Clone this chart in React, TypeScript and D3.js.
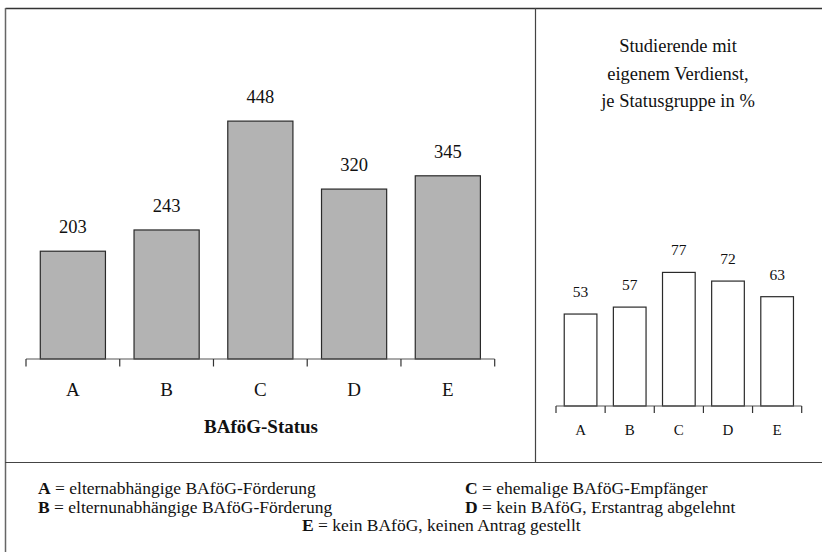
import React from "react";
import * as d3 from "d3";

const categories = ["A", "B", "C", "D", "E"];
const leftValues = [203, 243, 448, 320, 345];
const rightValues = [53, 57, 77, 72, 63];
const leftAxisTitle = "BAföG-Status";
const rightTitle = ["Studierende mit", "eigenem Verdienst,", "je Statusgruppe in %"];
const legendLeft = [
  { key: "A", text: " = elternabhängige BAföG-Förderung" },
  { key: "B", text: " = elternunabhängige BAföG-Förderung" },
];
const legendRight = [
  { key: "C", text: " = ehemalige BAföG-Empfänger" },
  { key: "D", text: " = kein BAföG, Erstantrag abgelehnt" },
];
const legendCenter = { key: "E", text: " = kein BAföG, keinen Antrag gestellt" };

const W = 822;
const H = 552;
const FONT = "Liberation Serif, Times New Roman, serif";

export default function App() {
  // left chart
  const lx = d3.scaleBand<string>().domain(categories).range([26, 494.7]).padding(0);
  const ly = d3.scaleLinear().domain([0, 500]).range([359, 359 - 500 * 0.531]);
  const lStep = lx.step();
  const lBarW = lStep * 0.695;
  const lTicks = d3.range(categories.length + 1).map((i) => 26 + i * lStep);

  // right chart
  const rx = d3.scaleBand<string>().domain(categories).range([556, 801.7]).padding(0);
  const ry = d3.scaleLinear().domain([0, 100]).range([406, 406 - 173.5]);
  const rStep = rx.step();
  const rBarW = rStep * 0.665;
  const rTicks = d3.range(categories.length + 1).map((i) => 556 + i * rStep);

  const stroke = "#2a2a2a";
  const ts = { fontFamily: FONT };
  const legendSize = 17.5;

  return (
    <svg
      width={W}
      height={H}
      style={{ position: "absolute", left: 0, top: 0, background: "#fff", fontFamily: FONT }}
    >
      <rect x={0} y={0} width={W} height={H} fill="#fff" />
      {/* frame */}
      <line x1={5.5} x2={W} y1={8.5} y2={8.5} stroke="#333" strokeWidth={1.5} />
      <line x1={5.5} x2={5.5} y1={8} y2={H} stroke="#666" strokeWidth={1.5} />
      <line x1={535.5} x2={535.5} y1={8} y2={462} stroke="#444" strokeWidth={1.2} />
      <line x1={5} x2={W} y1={462.5} y2={462.5} stroke="#444" strokeWidth={1.2} />

      {/* left chart bars */}
      {categories.map((c, i) => {
        const x = (lx(c) as number) + (lStep - lBarW) / 2;
        const y = ly(leftValues[i]);
        return (
          <g key={"lb" + c}>
            <rect x={x} y={y} width={lBarW} height={ly(0) - y} fill="#b3b3b3" stroke={stroke} strokeWidth={1.2} />
            <text style={ts} x={x + lBarW / 2} y={y - 18} textAnchor="middle" fontSize={18.5} fill="#111">
              {leftValues[i]}
            </text>
            <text style={ts} x={(lx(c) as number) + lStep / 2} y={396} textAnchor="middle" fontSize={19} fill="#111">
              {c}
            </text>
          </g>
        );
      })}
      <line x1={26} x2={494.7} y1={ly(0)} y2={ly(0)} stroke="#555" strokeWidth={1.2} />
      {lTicks.map((t, i) => (
        <line key={"lt" + i} x1={t} x2={t} y1={ly(0)} y2={ly(0) + 7.5} stroke="#333" strokeWidth={1.2} />
      ))}
      <text style={ts} x={261} y={433} textAnchor="middle" fontSize={19} fontWeight="bold" fill="#111">
        {leftAxisTitle}
      </text>

      {/* right chart */}
      {rightTitle.map((t, i) => (
        <text style={ts} key={"rt" + i} x={678} y={52 + i * 27.5} textAnchor="middle" fontSize={18.5} fill="#111">
          {t}
        </text>
      ))}
      {categories.map((c, i) => {
        const x = (rx(c) as number) + (rStep - rBarW) / 2;
        const y = ry(rightValues[i]);
        return (
          <g key={"rb" + c}>
            <rect x={x} y={y} width={rBarW} height={ry(0) - y} fill="#fff" stroke={stroke} strokeWidth={1.2} />
            <text style={ts} x={x + rBarW / 2} y={y - 17} textAnchor="middle" fontSize={15.5} fill="#111">
              {rightValues[i]}
            </text>
            <text style={ts} x={(rx(c) as number) + rStep / 2} y={435} textAnchor="middle" fontSize={15} fill="#111">
              {c}
            </text>
          </g>
        );
      })}
      <line x1={556} x2={801.7} y1={ry(0)} y2={ry(0)} stroke="#555" strokeWidth={1.2} />
      {rTicks.map((t, i) => (
        <line key={"rtk" + i} x1={t} x2={t} y1={ry(0)} y2={ry(0) + 7} stroke="#333" strokeWidth={1.2} />
      ))}

      {/* legend */}
      {legendLeft.map((l, i) => (
        <text style={ts} key={"ll" + i} x={38} y={494 + i * 18.5} fontSize={legendSize} fill="#111">
          <tspan fontWeight="bold">{l.key}</tspan>
          <tspan>{l.text}</tspan>
        </text>
      ))}
      {legendRight.map((l, i) => (
        <text style={ts} key={"lr" + i} x={465} y={494 + i * 18.5} fontSize={legendSize} fill="#111">
          <tspan fontWeight="bold">{l.key}</tspan>
          <tspan>{l.text}</tspan>
        </text>
      ))}
      <text style={ts} x={302} y={531} fontSize={legendSize} fill="#111">
        <tspan fontWeight="bold">{legendCenter.key}</tspan>
        <tspan>{legendCenter.text}</tspan>
      </text>
    </svg>
  );
}
